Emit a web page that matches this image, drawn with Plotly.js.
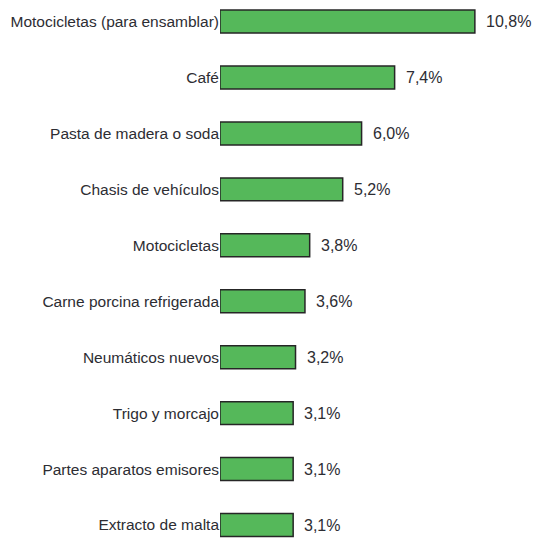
<!DOCTYPE html>
<html>
<head>
<meta charset="utf-8">
<script src="https://cdn.plot.ly/plotly-3.0.1.min.js"></script>
<style>html,body{margin:0;padding:0;background:#fff;}#chart{width:540px;height:540px;}</style>
</head>
<body>
<div id="chart"></div>
<script>
const categories = [
  "Motocicletas (para ensamblar)",
  "Café",
  "Pasta de madera o soda",
  "Chasis de vehículos",
  "Motocicletas",
  "Carne porcina refrigerada",
  "Neumáticos nuevos",
  "Trigo y morcajo",
  "Partes aparatos emisores",
  "Extracto de malta"
];
const values = [10.8, 7.4, 6.0, 5.2, 3.8, 3.6, 3.2, 3.1, 3.1, 3.1];
const valueLabels = ["10,8%", "7,4%", "6,0%", "5,2%", "3,8%", "3,6%", "3,2%", "3,1%", "3,1%", "3,1%"];

const textColor = "#2d2d33";
const fontFam = "Liberation Sans, Arial, sans-serif";
const trace = {
  type: "bar",
  orientation: "h",
  y: categories,
  x: values,
  marker: { color: "#55b85a", line: { color: "#262626", width: 1.5 } },
  hoverinfo: "none"
};

const annotations = categories.map((c, i) => ({
  x: values[i], y: c, xref: "x", yref: "y",
  text: valueLabels[i], showarrow: false,
  xanchor: "left", yanchor: "middle", xshift: 9,
  font: { family: fontFam, size: 16, color: textColor }
}));

const layout = {
  width: 540, height: 540,
  margin: { l: 220, r: 0, t: 0, b: 0, pad: 0 },
  paper_bgcolor: "#fff", plot_bgcolor: "#fff",
  showlegend: false,
  bargap: 0.59,
  xaxis: { range: [0, 13.56], visible: false, showgrid: false, zeroline: false, fixedrange: true },
  yaxis: {
    type: "category",
    range: [9.268, -0.385],
    showgrid: false, zeroline: false, showline: false, ticks: "",
    tickfont: { family: fontFam, size: 15.5, color: textColor },
    ticklabelstandoff: 0
  },
  annotations: annotations
};

Plotly.newPlot("chart", [trace], layout, { displayModeBar: false, staticPlot: true });
</script>
</body>
</html>
